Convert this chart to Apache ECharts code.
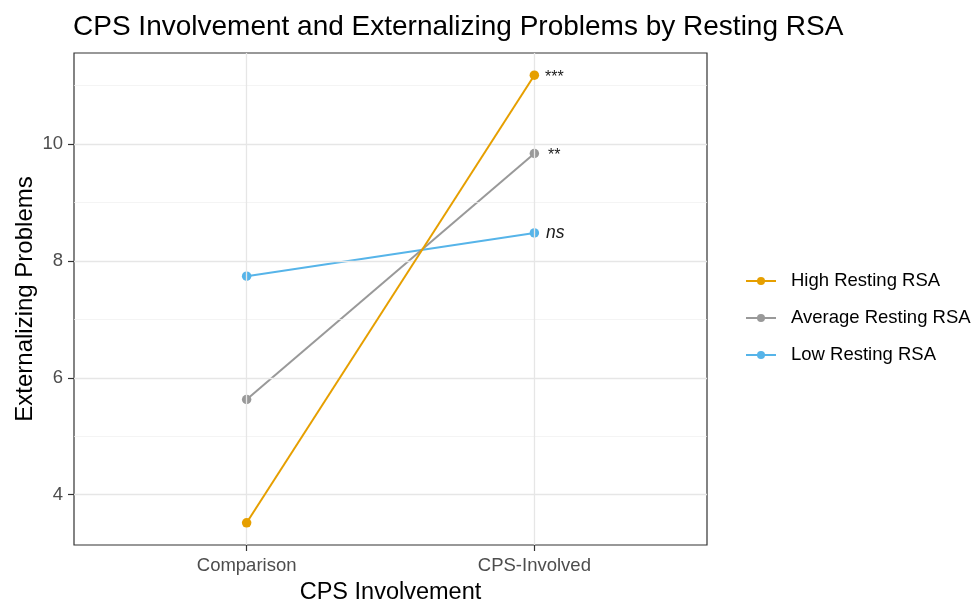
<!DOCTYPE html>
<html>
<head>
<meta charset="utf-8">
<script src="https://cdn.jsdelivr.net/npm/echarts@6/dist/echarts.min.js"></script>
<style>html,body{margin:0;padding:0;background:#fff;}#c{width:972px;height:601px;}</style>
</head>
<body>
<div id="c"></div>
<script>
var categories = ['Comparison', 'CPS-Involved'];
var seriesNames = ['High Resting RSA', 'Average Resting RSA', 'Low Resting RSA'];
var highValues = [3.52, 11.18];
var averageValues = [5.63, 9.84];
var lowValues = [7.74, 8.48];
var sigLabels = ['***', '**', 'ns'];
var yMajorTicks = [4, 6, 8, 10];
var yMinorTicks = [3, 5, 7, 9, 11];
var xTickPositions = [1, 2];
var colors = ['#E69F00', '#999999', '#56B4E9'];

var FONT = 'Liberation Sans, Arial, Helvetica, sans-serif';
var allValues = [highValues, averageValues, lowValues];
var labelDistance = [6, 9, 7];

function buildData(vals, idx) {
  return vals.map(function (v, i) {
    var d = { value: [xTickPositions[i], v] };
    if (i === vals.length - 1) {
      var isNs = sigLabels[idx] === 'ns';
      d.label = {
        show: true,
        position: 'right',
        distance: labelDistance[idx],
        formatter: sigLabels[idx],
        color: '#1a1a1a',
        fontFamily: FONT,
        fontSize: isNs ? 17.5 : 16,
        fontStyle: isNs ? 'italic' : 'normal',
        offset: isNs ? [0, 0] : [0, 2]
      };
    }
    return d;
  });
}

var gridLines = [];
yMinorTicks.forEach(function (v) { gridLines.push({ yAxis: v, lineStyle: { color: '#efefef', width: 0.7, type: 'solid' } }); });
yMajorTicks.forEach(function (v) { gridLines.push({ yAxis: v, lineStyle: { color: '#e6e6e6', width: 1.3, type: 'solid' } }); });
xTickPositions.forEach(function (v) { gridLines.push({ xAxis: v, lineStyle: { color: '#e6e6e6', width: 1.3, type: 'solid' } }); });

var series = [{
  name: '_grid',
  type: 'line',
  data: [],
  z: 1,
  silent: true,
  markLine: { silent: true, symbol: 'none', label: { show: false }, animation: false, data: gridLines }
}];
seriesNames.forEach(function (n, i) {
  series.push({
    name: n,
    type: 'line',
    z: 5 - i,
    data: buildData(allValues[i], i),
    symbol: 'circle',
    symbolSize: 9.5,
    lineStyle: { color: colors[i], width: 2 },
    itemStyle: { color: colors[i] },
    animation: false
  });
});

var chart = echarts.init(document.getElementById('c'), null, { renderer: 'canvas' });
chart.setOption({
  backgroundColor: '#ffffff',
  animation: false,
  title: {
    text: 'CPS Involvement and Externalizing Problems by Resting RSA',
    left: 73, top: 13, padding: 0,
    textStyle: { fontFamily: FONT, fontSize: 28, fontWeight: 'normal', color: '#000' }
  },
  legend: {
    data: seriesNames,
    orient: 'vertical',
    left: 745, top: 270, padding: 0,
    itemWidth: 30, itemHeight: 10, itemGap: 15,
    textStyle: { fontFamily: FONT, fontSize: 18.5, color: '#000', lineHeight: 22, padding: [0, 0, 0, 10] }
  },
  grid: {
    left: 74, right: 265, top: 53, bottom: 56,
    outerBoundsMode: 'none', containLabel: false,
    show: true, borderColor: '#333333', borderWidth: 1.2, backgroundColor: 'transparent'
  },
  xAxis: {
    type: 'value', min: 0.4, max: 2.6,
    name: 'CPS Involvement', nameLocation: 'middle', nameGap: 36,
    nameTextStyle: { fontFamily: FONT, fontSize: 23.5, color: '#000' },
    axisLine: { show: false },
    axisTick: { show: true, customValues: xTickPositions, length: 6, lineStyle: { color: '#333', width: 1.2 } },
    axisLabel: {
      customValues: xTickPositions, margin: 11,
      fontFamily: FONT, fontSize: 18.5, color: '#4d4d4d',
      formatter: function (v) { return categories[Math.round(v) - 1]; }
    },
    splitLine: { show: false }, minorSplitLine: { show: false }
  },
  yAxis: {
    type: 'value', min: 3.14, max: 11.56,
    name: 'Externalizing Problems', nameLocation: 'middle', nameGap: 37, nameRotate: 90,
    nameMoveOverlap: false,
    nameTextStyle: { fontFamily: FONT, fontSize: 24, color: '#000' },
    axisLine: { show: false },
    axisTick: { show: true, customValues: yMajorTicks, length: 6, lineStyle: { color: '#333', width: 1.2 } },
    axisLabel: { customValues: yMajorTicks, margin: 11, fontFamily: FONT, fontSize: 18.5, color: '#4d4d4d' },
    splitLine: { show: false }, minorSplitLine: { show: false }
  },
  series: series
});
</script>
</body>
</html>
